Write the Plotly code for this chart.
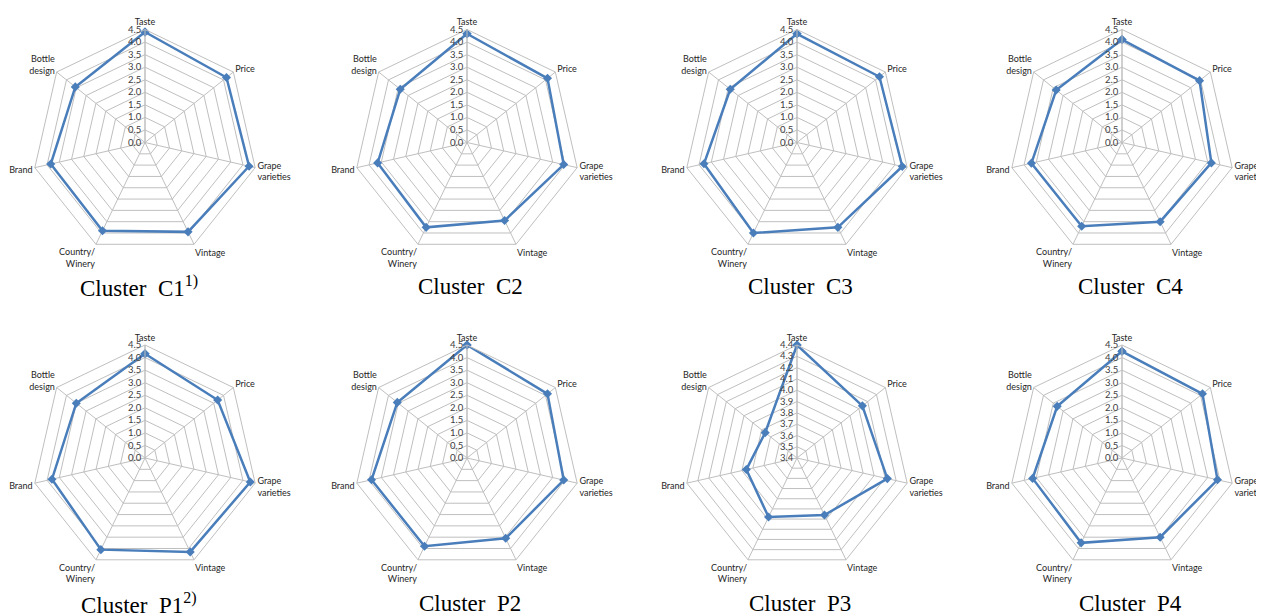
import plotly.graph_objects as go

categories = ["Taste", "Price", "Grape<br>varieties", "Vintage", "Country/<br>Winery", "Brand", "Bottle<br>design"]

c1 = [4.40, 4.15, 4.25, 3.95, 3.90, 3.85, 3.55]
c2 = [4.33, 4.10, 3.95, 3.45, 3.75, 3.65, 3.40]
c3 = [4.33, 4.20, 4.30, 3.75, 4.00, 3.80, 3.40]
c4 = [4.10, 3.95, 3.65, 3.50, 3.70, 3.70, 3.35]
p1 = [4.15, 3.70, 4.30, 4.15, 4.05, 3.80, 3.50]
p2 = [4.50, 4.10, 3.95, 3.55, 3.90, 3.90, 3.55]
p3 = [4.40, 4.14, 4.22, 3.96, 3.98, 3.86, 3.76]
p4 = [4.25, 4.10, 3.90, 3.50, 3.75, 3.65, 3.30]

series = [c1, c2, c3, c4, p1, p2, p3, p4]
titles = ["Cluster  C1<sup>1)</sup>", "Cluster  C2", "Cluster  C3", "Cluster  C4",
          "Cluster  P1<sup>2)</sup>", "Cluster  P2", "Cluster  P3", "Cluster  P4"]
ranges = [[0, 4.5]] * 6 + [[3.4, 4.4]] + [[0, 4.5]]
dticks = [0.5] * 6 + [0.1] + [0.5]

W, H = 1264, 616
centers_x = [137, 459, 789, 1114]
centers_y = [134.5, 450]
R = 113
title_x = [131, 462, 792, 1122]
title_y = [278, 595]

fig = go.Figure()
grid = "#BFBFBF"
blue = "#4A7EBB"
lab_font = "Lato, Open Sans, Liberation Sans, sans-serif"

for i, vals in enumerate(series):
    row, col = divmod(i, 4)
    cx, cy = centers_x[col], centers_y[row]
    pname = "polar" if i == 0 else f"polar{i+1}"
    fig.add_trace(go.Scatterpolar(
        r=vals + [vals[0]],
        theta=categories + [categories[0]],
        mode="lines+markers",
        line=dict(color=blue, width=2.5),
        marker=dict(symbol="diamond", size=7, color=blue),
        subplot=pname,
        showlegend=False,
        hoverinfo="r+theta",
    ))
    fig.update_layout(**{pname: dict(
        domain=dict(x=[(cx - R) / W, (cx + R) / W],
                    y=[1 - (cy + R) / H, 1 - (cy - R) / H]),
        gridshape="linear",
        bgcolor="white",
        angularaxis=dict(
            direction="clockwise", rotation=90,
            categoryorder="array", categoryarray=categories,
            showline=True, linecolor=grid, linewidth=1,
            gridcolor=grid, gridwidth=1, ticks="",
            tickfont=dict(family=lab_font, size=9, color="#262626"),
        ),
        radialaxis=dict(
            range=ranges[i], dtick=dticks[i], tick0=ranges[i][0],
            tickformat=".1f", angle=90, tickangle=90, side="counterclockwise",
            showline=True, linecolor=grid, linewidth=1,
            gridcolor=grid, gridwidth=1, ticks="",
            tickfont=dict(family=lab_font, size=9.5, color="#404040"),
        ),
    )})
    fig.add_annotation(
        x=title_x[col] / W, y=1 - title_y[row] / H, xref="paper", yref="paper",
        text=titles[i], showarrow=False, xanchor="center", yanchor="middle",
        font=dict(family="Liberation Serif, Times New Roman, serif", size=23, color="black"),
    )

fig.update_layout(
    width=W, height=H,
    margin=dict(l=0, r=0, t=0, b=0),
    paper_bgcolor="white", plot_bgcolor="white",
    showlegend=False,
)

fig.write_html("out.html")
